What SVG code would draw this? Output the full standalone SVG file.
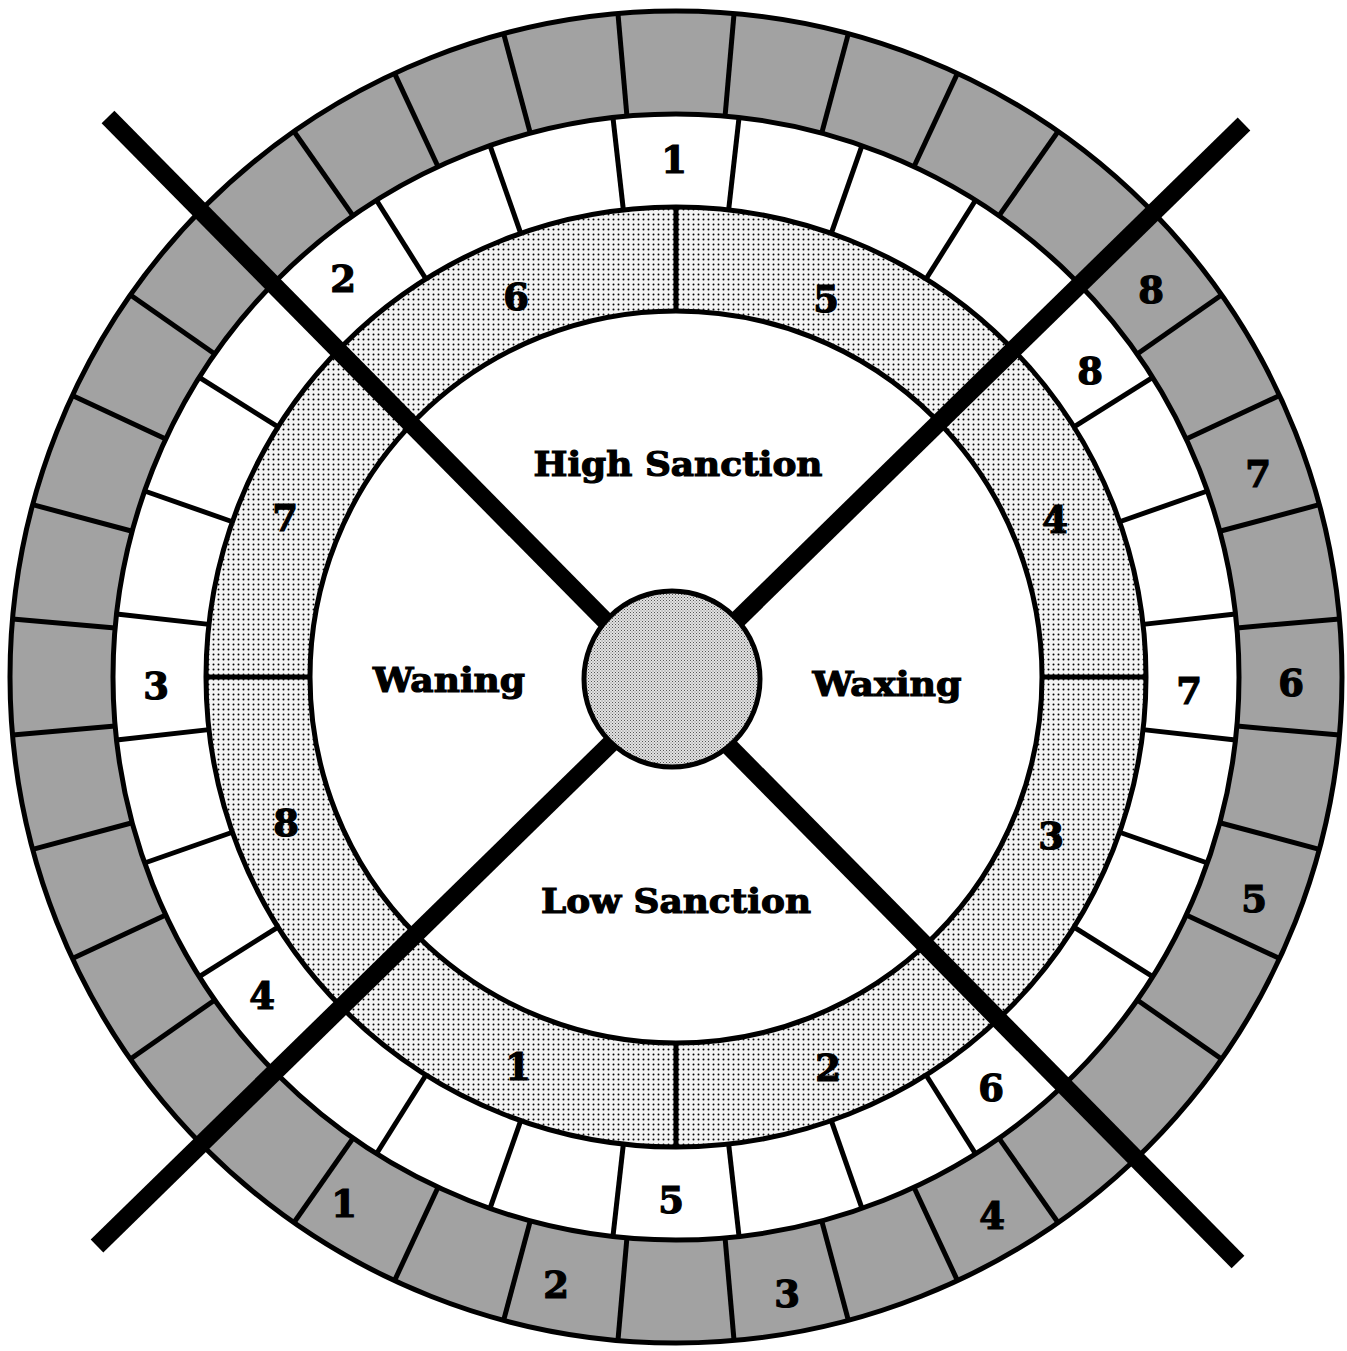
<svg xmlns="http://www.w3.org/2000/svg" width="1347" height="1351" viewBox="0 0 1347 1351">
<style>
.ln{stroke:#000;stroke-width:5;fill:none}
.num{font-family:"DejaVu Serif","Liberation Serif",serif;font-weight:bold;font-size:37px;text-anchor:middle;fill:#000;stroke:#000;stroke-width:1.2}
.lbl{font-family:"DejaVu Serif","Liberation Serif",serif;font-weight:bold;font-size:34px;text-anchor:middle;fill:#000;stroke:#000;stroke-width:1.2}
.bar{stroke:#000;stroke-width:18;stroke-linecap:butt}
</style>
<defs>
<pattern id="dots" width="5" height="5" patternUnits="userSpaceOnUse">
<rect width="5" height="5" fill="#f4f4f4"/>
<circle cx="2.5" cy="2.5" r="1" fill="#000"/>
</pattern>
<pattern id="light" width="3" height="3" patternUnits="userSpaceOnUse">
<rect width="3" height="3" fill="#e2e2e2"/>
<rect width="1" height="1" fill="#555"/>
<rect x="1.5" y="1.5" width="1" height="1" fill="#777"/>
</pattern>
<line id="gd" x1="0" y1="-563" x2="0" y2="-666" class="ln"/>
<line id="wd" x1="0" y1="-470" x2="0" y2="-563" class="ln"/>
<line id="dd" x1="0" y1="-366" x2="0" y2="-470" class="ln"/>
</defs>
<rect width="1347" height="1351" fill="#fff"/>
<g id="rings" transform="translate(676 677)">
<circle r="666" class="ln" style="fill:#a2a2a2"/>
<circle r="563" class="ln" style="fill:#fff"/>
<circle r="470" class="ln" style="fill:url(#dots)"/>
<circle r="366" class="ln" style="fill:#fff"/>
<g id="outer-ring-dividers">
<use href="#gd" transform="rotate(5)"/><use href="#gd" transform="rotate(15)"/><use href="#gd" transform="rotate(25)"/><use href="#gd" transform="rotate(35)"/><use href="#gd" transform="rotate(55)"/><use href="#gd" transform="rotate(65)"/><use href="#gd" transform="rotate(75)"/><use href="#gd" transform="rotate(85)"/>
<use href="#gd" transform="rotate(95)"/><use href="#gd" transform="rotate(105)"/><use href="#gd" transform="rotate(115)"/><use href="#gd" transform="rotate(125)"/><use href="#gd" transform="rotate(145)"/><use href="#gd" transform="rotate(155)"/><use href="#gd" transform="rotate(165)"/><use href="#gd" transform="rotate(175)"/>
<use href="#gd" transform="rotate(185)"/><use href="#gd" transform="rotate(195)"/><use href="#gd" transform="rotate(205)"/><use href="#gd" transform="rotate(215)"/><use href="#gd" transform="rotate(235)"/><use href="#gd" transform="rotate(245)"/><use href="#gd" transform="rotate(255)"/><use href="#gd" transform="rotate(265)"/>
<use href="#gd" transform="rotate(275)"/><use href="#gd" transform="rotate(285)"/><use href="#gd" transform="rotate(295)"/><use href="#gd" transform="rotate(305)"/><use href="#gd" transform="rotate(325)"/><use href="#gd" transform="rotate(335)"/><use href="#gd" transform="rotate(345)"/><use href="#gd" transform="rotate(355)"/>
</g>
<g id="middle-ring-dividers">
<use href="#wd" transform="rotate(6.43)"/><use href="#wd" transform="rotate(19.29)"/><use href="#wd" transform="rotate(32.14)"/><use href="#wd" transform="rotate(57.86)"/><use href="#wd" transform="rotate(70.71)"/><use href="#wd" transform="rotate(83.57)"/>
<use href="#wd" transform="rotate(96.43)"/><use href="#wd" transform="rotate(109.29)"/><use href="#wd" transform="rotate(122.14)"/><use href="#wd" transform="rotate(147.86)"/><use href="#wd" transform="rotate(160.71)"/><use href="#wd" transform="rotate(173.57)"/>
<use href="#wd" transform="rotate(186.43)"/><use href="#wd" transform="rotate(199.29)"/><use href="#wd" transform="rotate(212.14)"/><use href="#wd" transform="rotate(237.86)"/><use href="#wd" transform="rotate(250.71)"/><use href="#wd" transform="rotate(263.57)"/>
<use href="#wd" transform="rotate(276.43)"/><use href="#wd" transform="rotate(289.29)"/><use href="#wd" transform="rotate(302.14)"/><use href="#wd" transform="rotate(327.86)"/><use href="#wd" transform="rotate(340.71)"/><use href="#wd" transform="rotate(353.57)"/>
</g>
<g id="dotted-ring-dividers">
<use href="#dd"/><use href="#dd" transform="rotate(90)"/><use href="#dd" transform="rotate(180)"/><use href="#dd" transform="rotate(270)"/>
</g>
</g>
<g id="bars">
<line class="bar" x1="108" y1="117" x2="1238" y2="1262"/>
<line class="bar" x1="1244" y1="124" x2="97" y2="1246"/>
</g>
<g id="hub">
<circle cx="672" cy="679" r="88" fill="url(#light)" stroke="#000" stroke-width="5"/>
</g>
<g id="quadrant-labels">
<text class="lbl" x="678" y="476" textLength="289" lengthAdjust="spacingAndGlyphs">High Sanction</text>
<text class="lbl" x="449" y="692" textLength="152" lengthAdjust="spacingAndGlyphs">Waning</text>
<text class="lbl" x="887" y="696" textLength="149" lengthAdjust="spacingAndGlyphs">Waxing</text>
<text class="lbl" x="676" y="913" textLength="270" lengthAdjust="spacingAndGlyphs">Low Sanction</text>
</g>
<g id="outer-ring-numbers">
<text class="num" x="1151" y="303">8</text>
<text class="num" x="1258" y="487">7</text>
<text class="num" x="1291" y="696">6</text>
<text class="num" x="1254" y="912">5</text>
<text class="num" x="992" y="1229">4</text>
<text class="num" x="787" y="1307">3</text>
<text class="num" x="556" y="1298">2</text>
<text class="num" x="344" y="1217">1</text>
</g>
<g id="middle-ring-numbers">
<text class="num" x="674" y="173">1</text>
<text class="num" x="1090" y="384">8</text>
<text class="num" x="1189" y="704">7</text>
<text class="num" x="991" y="1101">6</text>
<text class="num" x="671" y="1213">5</text>
<text class="num" x="262" y="1009">4</text>
<text class="num" x="156" y="699">3</text>
<text class="num" x="343" y="292">2</text>
</g>
<g id="dotted-ring-numbers">
<text class="num" x="516" y="310">6</text>
<text class="num" x="826" y="312">5</text>
<text class="num" x="1055" y="533">4</text>
<text class="num" x="1051" y="849">3</text>
<text class="num" x="828" y="1081">2</text>
<text class="num" x="518" y="1080">1</text>
<text class="num" x="286" y="836">8</text>
<text class="num" x="285" y="531">7</text>
</g>
</svg>
